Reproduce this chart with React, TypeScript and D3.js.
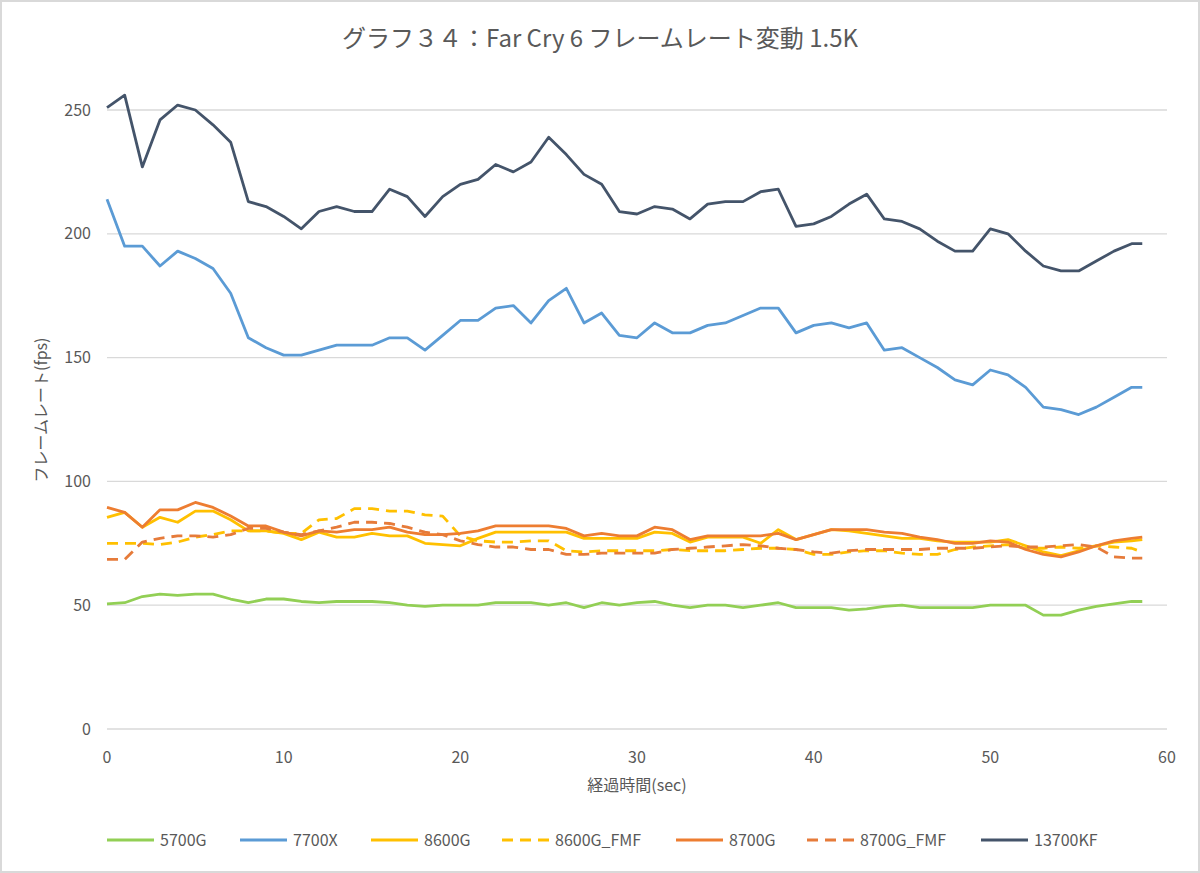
import React from "react";
import * as d3 from "d3";

const times: number[] = [
  0, 1, 2, 3, 4, 5, 6, 7, 8, 9, 10, 11, 12, 13, 14, 15, 16, 17, 18, 19,
  20, 21, 22, 23, 24, 25, 26, 27, 28, 29, 30, 31, 32, 33, 34, 35, 36, 37, 38, 39,
  40, 41, 42, 43, 44, 45, 46, 47, 48, 49, 50, 51, 52, 53, 54, 55, 56, 57, 58, 58.6,
];

const s5700G: number[] = [
  50.5, 51, 53.5, 54.5, 54, 54.5, 54.5, 52.5, 51, 52.5, 52.5, 51.5, 51, 51.5, 51.5, 51.5, 51, 50, 49.5, 50,
  50, 50, 51, 51, 51, 50, 51, 49, 51, 50, 51, 51.5, 50, 49, 50, 50, 49, 50, 51, 49,
  49, 49, 48, 48.5, 49.5, 50, 49, 49, 49, 49, 50, 50, 50, 46, 46, 48, 49.5, 50.5, 51.5, 51.5,
];

const s7700X: number[] = [
  214, 195, 195, 187, 193, 190, 186, 176, 158, 154, 151, 151, 153, 155, 155, 155, 158, 158, 153, 159,
  165, 165, 170, 171, 164, 173, 178, 164, 168, 159, 158, 164, 160, 160, 163, 164, 167, 170, 170, 160,
  163, 164, 162, 164, 153, 154, 150, 146, 141, 139, 145, 143, 138, 130, 129, 127, 130, 134, 138, 138,
];

const s8600G: number[] = [
  85.5, 87.5, 81.5, 85.5, 83.5, 88, 88, 84.5, 80, 80, 79, 76.5, 79.5, 77.5, 77.5, 79, 78, 78, 75, 74.5,
  74, 77, 79.5, 79.5, 79.5, 79.5, 79.5, 77, 77, 77, 77, 79.5, 79, 75.5, 77.5, 77.5, 77.5, 75, 80.5, 76.5,
  78.5, 80.5, 80, 79, 78, 77, 77, 76, 75.5, 75.5, 75.5, 76.5, 74, 71.5, 70, 72, 74, 75.5, 76, 76.5,
];

const s8600GFMF: number[] = [
  75, 75, 75, 74.5, 75.5, 77.5, 78.5, 80, 80, 80, 79, 79, 84.5, 85, 89, 89, 88, 88, 86.5, 86,
  78, 76, 75.5, 75.5, 76, 76, 72, 71.5, 72, 72, 72, 72, 72.5, 72, 72, 72, 72.5, 73, 73, 72.5,
  70.5, 70.5, 71.5, 72, 72, 71, 70.5, 70.5, 72.5, 73.5, 74, 74.5, 73, 73, 73.5, 73, 74, 73.5, 73, 71.5,
];

const s8700G: number[] = [
  89.5, 87.5, 81.5, 88.5, 88.5, 91.5, 89.5, 86, 82, 82, 79.5, 78, 80, 79.5, 80.5, 80.5, 81.5, 79.5, 78.5, 78.5,
  79, 80, 82, 82, 82, 82, 81, 78, 79, 78, 78, 81.5, 80.5, 76.5, 78, 78, 78, 78, 79, 76.5,
  78.5, 80.5, 80.5, 80.5, 79.5, 79, 77.5, 76.5, 75, 75, 76, 75.5, 72.5, 70.5, 69.5, 71.5, 74, 76, 77, 77.5,
];

const s8700GFMF: number[] = [
  68.5, 68.5, 75.5, 77, 78, 78, 77.5, 78.5, 81, 81, 79.5, 78.5, 80, 81.5, 83.5, 83.5, 83, 81.5, 79.5, 78.5,
  76, 74.5, 73.5, 73.5, 72.5, 72.5, 70.5, 70.5, 71, 71, 71, 71, 72.5, 73, 73.5, 74, 74.5, 74, 73, 72.5,
  71.5, 71, 72, 72.5, 72.5, 72.5, 72.5, 73, 73, 73, 73.5, 74, 73.5, 73.5, 74, 74.5, 73.5, 69.5, 69, 69,
];

const s13700KF: number[] = [
  251, 256, 227, 246, 252, 250, 244, 237, 213, 211, 207, 202, 209, 211, 209, 209, 218, 215, 207, 215,
  220, 222, 228, 225, 229, 239, 232, 224, 220, 209, 208, 211, 210, 206, 212, 213, 213, 217, 218, 203,
  204, 207, 212, 216, 206, 205, 202, 197, 193, 193, 202, 200, 193, 187, 185, 185, 189, 193, 196, 196,
];

const seriesNames: string[] = ["5700G", "7700X", "8600G", "8600G_FMF", "8700G", "8700G_FMF", "13700KF"];
const seriesValues: number[][] = [s5700G, s7700X, s8600G, s8600GFMF, s8700G, s8700GFMF, s13700KF];
const seriesColors: string[] = ["#92CF55", "#5B9BD5", "#FFC000", "#FFC000", "#ED7D31", "#E67B3A", "#44546A"];
const seriesDashed: boolean[] = [false, false, false, true, false, true, false];

const yTicks: number[] = [0, 50, 100, 150, 200, 250];
const xTicks: number[] = [0, 10, 20, 30, 40, 50, 60];

const titleText = "グラフ３４：Far Cry 6 フレームレート変動 1.5K";
const xTitle = "経過時間(sec)";
const yTitle = "フレームレート(fps)";

const legendLineX: number[] = [107, 240, 371, 502, 676, 807, 981];

export default function App() {
  const W = 1200;
  const H = 873;
  const left = 107;
  const right = 1167;
  const x = d3.scaleLinear().domain([0, 60]).range([left, right]);
  const y = d3.scaleLinear().domain([0, 250]).range([729, 110]);
  const line = d3
    .line<number>()
    .x((_, i) => x(times[i]))
    .y((d) => y(d));
  const font = "'Noto Sans CJK JP', 'Noto Sans', sans-serif";
  const textColor = "#595959";

  return (
    <svg
      width={W}
      height={H}
      style={{ position: "absolute", left: 0, top: 0, background: "#fff" }}
      fontFamily={font}
    >
      <rect x={1} y={1} width={W - 2} height={H - 2} fill="#fff" stroke="#D9D9D9" strokeWidth={2} />
      <text x={600} y={47} textAnchor="middle" fontSize={24} fill={textColor}>
        {titleText}
      </text>
      {yTicks.map((t) => (
        <g key={"y" + t}>
          <line x1={left} x2={right} y1={y(t)} y2={y(t)} stroke="#D9D9D9" strokeWidth={1.3} />
          <text x={91} y={y(t) + 5.5} textAnchor="end" fontSize={16} fill={textColor}>
            {t}
          </text>
        </g>
      ))}
      {xTicks.map((t) => (
        <text key={"x" + t} x={x(t)} y={763} textAnchor="middle" fontSize={16} fill={textColor}>
          {t}
        </text>
      ))}
      <text x={(left + right) / 2} y={791} textAnchor="middle" fontSize={16} fill={textColor}>
        {xTitle}
      </text>
      <text
        transform={`translate(47, ${410}) rotate(-90)`}
        textAnchor="middle"
        fontSize={16}
        fill={textColor}
      >
        {yTitle}
      </text>
      {seriesValues.map((vals, i) => (
        <path
          key={seriesNames[i]}
          d={line(vals) || ""}
          fill="none"
          stroke={seriesColors[i]}
          strokeWidth={2.8}
          strokeDasharray={seriesDashed[i] ? "11,7" : undefined}
          strokeLinejoin="round"
        />
      ))}
      {seriesNames.map((name, i) => (
        <g key={"lg" + name}>
          <line
            x1={legendLineX[i]}
            x2={legendLineX[i] + 47}
            y1={840}
            y2={840}
            stroke={seriesColors[i]}
            strokeWidth={2.8}
            strokeDasharray={seriesDashed[i] ? "11,7" : undefined}
          />
          <text x={legendLineX[i] + 53} y={845.5} fontSize={16} fill={textColor}>
            {name}
          </text>
        </g>
      ))}
    </svg>
  );
}
